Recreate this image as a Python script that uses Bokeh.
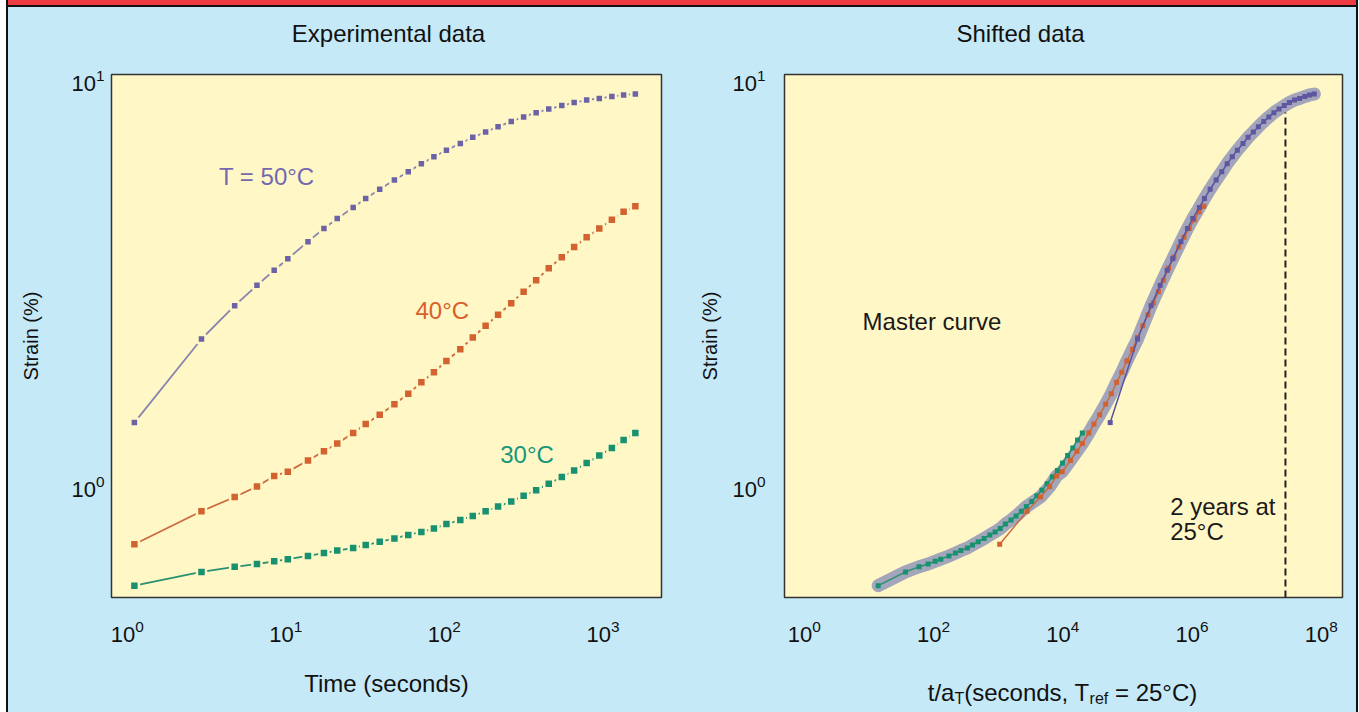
import numpy as np
from bokeh.plotting import figure
from bokeh.models import Label, FixedTicker, Div, ColumnDataSource, Range1d
from bokeh.layouts import row, column
from bokeh.embed import file_html
from bokeh.resources import INLINE
from bokeh.core.properties import value

# ---------------- data ----------------
time_s = [1.11, 2.94, 4.76, 6.58, 8.45, 10.3, 13.8, 17.4, 21.1, 26.6, 31.9, 39.1,
          48.4, 59.2, 71.6, 85.9, 103, 126, 151, 182, 218, 264, 316, 379, 455,
          550, 658, 789, 948, 1138, 1349, 1600]
strain_50C = [1.43, 2.30, 2.78, 3.12, 3.40, 3.63, 4.00, 4.31, 4.56, 4.86, 5.11, 5.39,
              5.68, 5.95, 6.23, 6.48, 6.73, 6.99, 7.24, 7.46, 7.69, 7.92, 8.13, 8.33,
              8.50, 8.67, 8.82, 8.95, 9.03, 9.13, 9.21, 9.26]
strain_40C = [0.716, 0.864, 0.937, 0.994, 1.056, 1.082, 1.153, 1.215, 1.27, 1.348,
              1.418, 1.495, 1.588, 1.685, 1.798, 1.904, 2.03, 2.17, 2.32, 2.48, 2.64,
              2.82, 3.01, 3.21, 3.44, 3.66, 3.88, 4.10, 4.31, 4.53, 4.74, 4.89]
strain_30C = [0.566, 0.612, 0.63, 0.640, 0.650, 0.658, 0.670, 0.681, 0.691, 0.701,
              0.713, 0.726, 0.740, 0.755, 0.768, 0.783, 0.803, 0.822, 0.841, 0.864,
              0.887, 0.913, 0.943, 0.974, 1.01, 1.05, 1.089, 1.136, 1.186, 1.238,
              1.295, 1.348]
# log10 of the shift factor to T_ref = 25 °C
log_shift = {"30": 1.10, "40": 2.98, "50": 4.69}
two_years_x = 2.8e7          # dashed marker position on the shifted axis
two_years_top = 8.34

left_x_ticks = [1, 10, 100, 1000]
right_x_ticks = [1, 1e2, 1e4, 1e6, 1e8]
y_ticks = [1, 10]

# ---------------- styles ----------------
BLUE = "#C6E9F8"
YELLOW = "#FFF8C6"
PURPLE = "#6C62A6"
PURPLE_LINE = "#8A84B0"
ORANGE = "#D2622F"
ORANGE_LINE = "#CC6A3C"
GREEN = "#17916F"
GREEN_LINE = "#2A9072"
FONT = "Liberation Sans"
FS = "24px"
INK = "#111111"

YR = (10 ** -0.2765, 10 ** 1.0148)
TITLE_H = 50
LABEL_H = 45


def base_fig(xr, left_border, right_border, bottom_border, frame_w, xticks):
    p = figure(x_axis_type="log", y_axis_type="log", x_range=xr, y_range=YR,
               frame_width=frame_w, frame_height=523,
               min_border_left=left_border, min_border_right=right_border,
               min_border_top=67 - TITLE_H, min_border_bottom=bottom_border,
               output_backend="svg", toolbar_location=None,
               background_fill_color=YELLOW, border_fill_color=BLUE,
               outline_line_color="#333333", outline_line_width=1.5)
    p.grid.visible = False
    for ax in (p.xaxis[0], p.yaxis[0]):
        ax.axis_line_color = None
        ax.major_tick_line_color = None
        ax.minor_tick_line_color = None
        ax.major_label_text_font = FONT
        ax.major_label_text_font_size = "22px"
        ax.major_label_text_color = INK
        ax.axis_label_text_font = FONT
        ax.axis_label_text_font_style = "normal"
        ax.axis_label_text_color = INK
    p.xaxis[0].ticker = FixedTicker(ticks=xticks, minor_ticks=[])
    p.yaxis[0].ticker = FixedTicker(ticks=y_ticks, minor_ticks=[])
    p.xaxis[0].major_label_standoff = 16
    p.xaxis[0].axis_label_text_font_size = FS
    p.yaxis[0].axis_label = "Strain (%)"
    p.yaxis[0].axis_label_text_font_size = "20px"
    return p


def strip(frame_w, left_border, right_border, h):
    s = figure(frame_width=frame_w, frame_height=h, x_range=Range1d(0, frame_w),
               y_range=Range1d(0, h), min_border_left=left_border,
               min_border_right=right_border, min_border_top=0, min_border_bottom=0,
               x_axis_location=None, y_axis_location=None,
               output_backend="svg", toolbar_location=None,
               background_fill_color=BLUE, border_fill_color=BLUE, outline_line_color=None)
    s.grid.visible = False
    return s


def series(p, t, s, line_color, marker_color, size):
    src = ColumnDataSource(dict(t=t, s=s))
    p.line("t", "s", source=src, line_color=line_color, line_width=1.8)
    p.scatter("t", "s", source=src, marker="square", size=size,
              fill_color=marker_color, line_color=YELLOW, line_width=2.5)


# ---------------- left: experimental data ----------------
p1 = base_fig((10 ** -0.099, 10 ** 3.369), 103, 23, 115, 550, left_x_ticks)
p1.xaxis[0].axis_label = "Time (seconds)"
p1.xaxis[0].axis_label_standoff = 25
p1.yaxis[0].major_label_standoff = 1
p1.yaxis[0].axis_label_standoff = 26

series(p1, time_s, strain_30C, GREEN_LINE, GREEN, 9)
series(p1, time_s, strain_40C, ORANGE_LINE, ORANGE, 9)
series(p1, time_s, strain_50C, PURPLE_LINE, PURPLE, 8)

for txt, x, y, col in [("T = 50°C", 3.79, 5.79, "#7468B0"),
                       ("40°C", 65.7, 2.70, "#DC5F2A"),
                       ("30°C", 225, 1.19, "#16967A")]:
    p1.add_layout(Label(x=x, y=y, text=txt, text_align="left", text_baseline="middle",
                        text_font=FONT, text_font_size=FS, text_color=col))

t1 = strip(550, 103, 23, TITLE_H)
t1.text(x=[277], y=[24], text=["Experimental data"], text_align="center",
        text_baseline="middle", text_font=value(FONT), text_font_size=value(FS),
        text_color=INK)

# ---------------- right: shifted data ----------------
p2 = base_fig((10 ** -0.305, 10 ** 8.33), 100, 14, 115 - LABEL_H, 558, right_x_ticks)
p2.yaxis[0].major_label_standoff = 13
p2.yaxis[0].axis_label_standoff = 8

t30 = [t * 10 ** log_shift["30"] for t in time_s]
t40 = [t * 10 ** log_shift["40"] for t in time_s]
t50 = [t * 10 ** log_shift["50"] for t in time_s]

# master-curve band built from the shifted points
halo_t, halo_s = [], []
for t, s in zip(t30, strain_30C):
    if t < 10 ** 3.5:
        halo_t.append(t); halo_s.append(s)
for t, s in zip(t40, strain_40C):
    if 10 ** 3.5 <= t < t50[1]:
        halo_t.append(t); halo_s.append(s)
halo_t += t50[1:]
halo_s += strain_50C[1:]
p2.line(halo_t, halo_s, line_color="#5860B0", line_alpha=0.55, line_width=13,
        line_cap="round", line_join="round")

for tt, ss, lc, mc in [(t30, strain_30C, GREEN_LINE, GREEN),
                       (t40, strain_40C, ORANGE_LINE, ORANGE),
                       (t50, strain_50C, "#5A52A0", "#5E56A0")]:
    p2.line(tt, ss, line_color=lc, line_width=1.5)
    p2.scatter(tt, ss, marker="square", size=5, fill_color=mc, line_color=None)

p2.segment(x0=[two_years_x], y0=[YR[0]], x1=[two_years_x], y1=[two_years_top],
           line_color="#222222", line_width=2, line_dash="7 4")

for txt, x, y in [("Master curve", 8.0, 2.54), ("2 years at", 4.6e5, 0.887), ("25°C", 4.6e5, 0.77)]:
    p2.add_layout(Label(x=x, y=y, text=txt, text_align="left", text_baseline="middle",
                        text_font=FONT, text_font_size="24px", text_color="#1a1a1a"))

t2 = strip(558, 100, 14, TITLE_H)
t2.text(x=[236], y=[24], text=["Shifted data"], text_align="center",
        text_baseline="middle", text_font=value(FONT), text_font_size=value(FS),
        text_color=INK)

# x-axis label of the shifted plot (with subscripts), drawn in a strip below it
pl = strip(558, 100, 14, LABEL_H)
f, fs = 24.0, 16.0
pieces = [("t/a", f, 0), ("T", fs, -6), ("(seconds, T", f, 0), ("ref", fs, -6), (" ", f, 0), ("= 25°C)", f, 0)]
widths = [1.112 * f, 0.611 * fs, 5.224 * f, 1.167 * fs, 0.278 * f, 3.429 * f]
cx = 278 - sum(widths) / 2
base_y = 20
for (txt, size, dy), w in zip(pieces, widths):
    if txt.strip():
        pl.text(x=[cx], y=[base_y + dy], text=[txt], text_align="left",
                text_baseline="alphabetic", text_font=value(FONT),
                text_font_size=value(f"{int(size)}px"), text_color=INK)
    cx += w

banner = Div(text="", width=1348, height=7, margin=0,
             styles={"background": "linear-gradient(#EE3A43 0px, #EE3A43 5px, #111 5px, #111 7px)"})
layout = column(banner, row(column(t1, p1), column(t2, p2, pl)),
                styles={"margin-left": "6px", "border-left": "2px solid #111",
                        "border-right": "2px solid #111", "background": BLUE})

with open("out.html", "w") as fh:
    fh.write(file_html(layout, INLINE))
